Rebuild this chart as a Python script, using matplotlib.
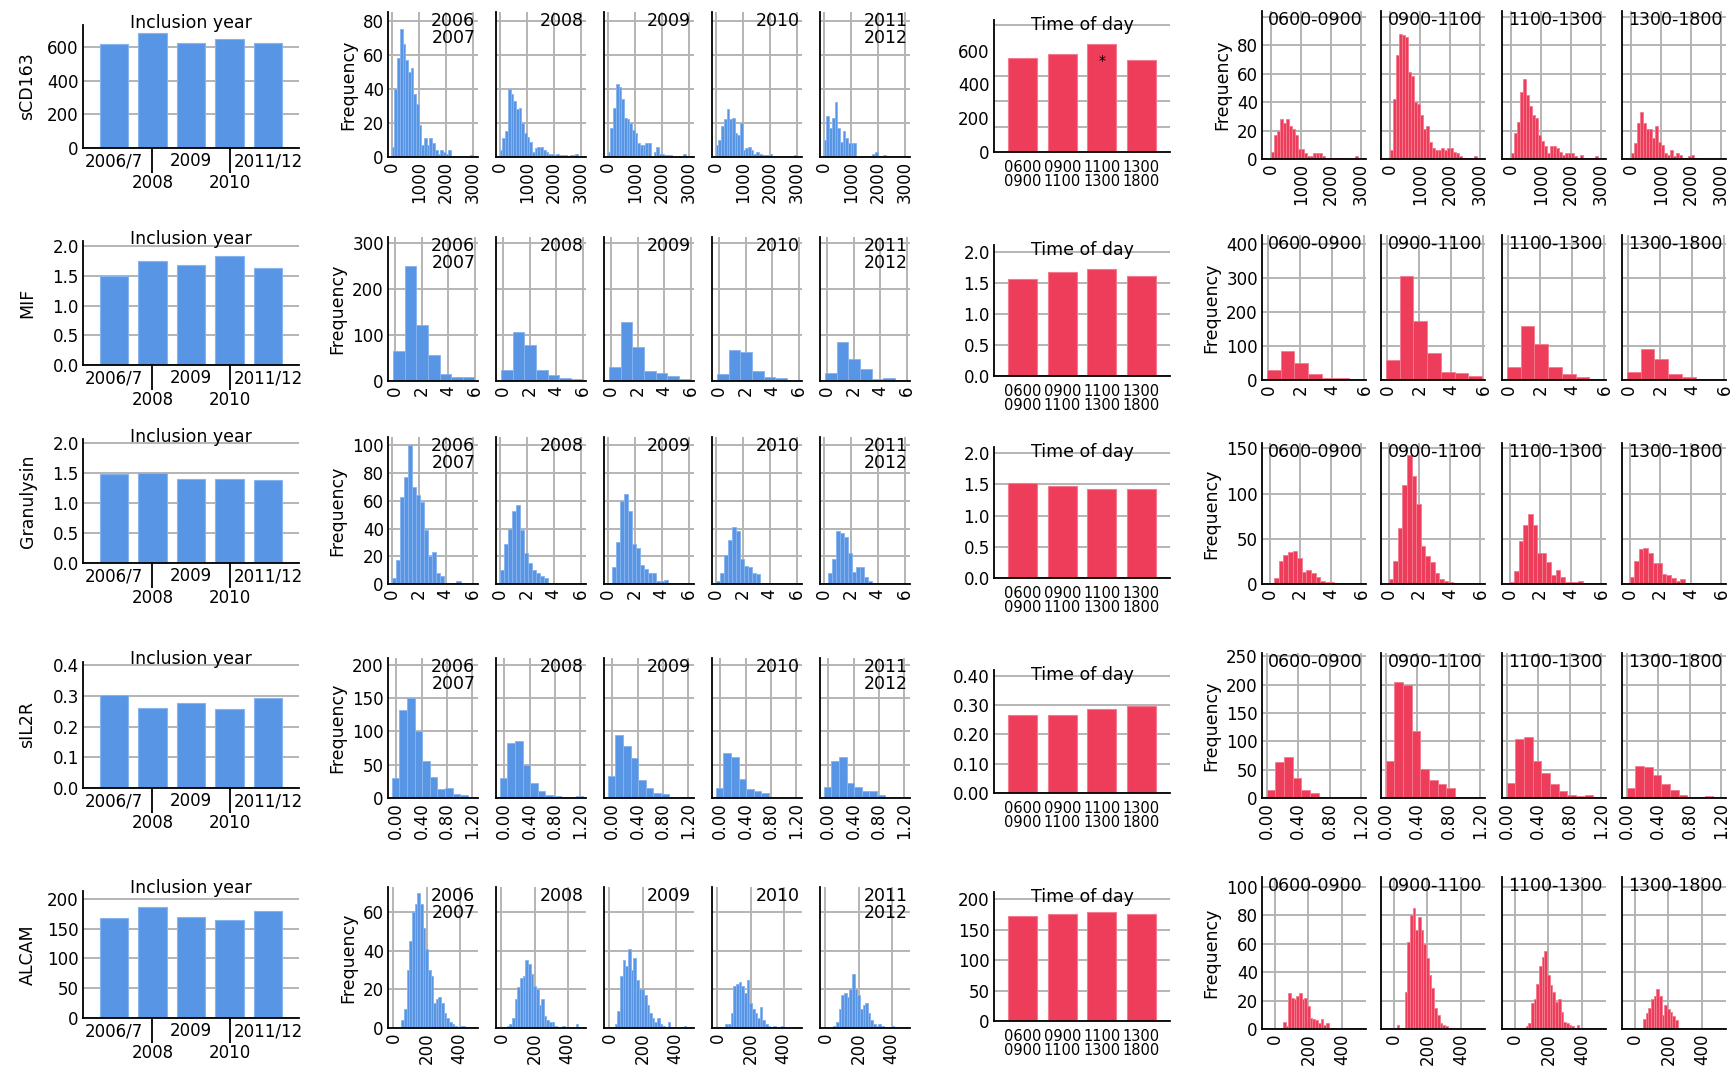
import numpy as np
import matplotlib.pyplot as plt

plt.rcParams['font.family'] = ['DejaVu Sans']
plt.rcParams['font.size'] = 12

# ---------------- data ----------------
markers = ['sCD163', 'MIF', 'Granulysin', 'sIL2R', 'ALCAM']
years = ['2006/7', '2008', '2009', '2010', '2011/12']
year_panel_labels = ['2006\n2007', '2008', '2009', '2010', '2011\n2012']
tod_labels = ['0600\n0900', '0900\n1100', '1100\n1300', '1300\n1800']
tod_panel_labels = ['0600-0900', '0900-1100', '1100-1300', '1300-1800']

# mean levels by inclusion year
year_scd163 = [615, 685, 625, 645, 625]
year_mif = [1.50, 1.75, 1.68, 1.84, 1.64]
year_gran = [1.48, 1.51, 1.41, 1.41, 1.39]
year_sil2r = [0.303, 0.259, 0.277, 0.256, 0.292]
year_alcam = [167, 187, 170, 165, 180]

# mean levels by time of day
tod_scd163 = [555, 580, 640, 547]
tod_mif = [1.57, 1.67, 1.73, 1.61]
tod_gran = [1.53, 1.47, 1.42, 1.42]
tod_sil2r = [0.268, 0.268, 0.286, 0.297]
tod_alcam = [173, 176, 179, 176]

# histogram counts (bin start, bin width, counts per bin)
scd163_bins = (0, 100)
scd163_year_counts = [
    [6, 40, 58, 75, 66, 57, 50, 52, 37, 31, 19, 7, 11, 7, 11, 8, 4, 2, 4, 3, 2, 4, 0, 0, 0, 0, 0, 0, 0, 1],
    [4, 11, 15, 40, 37, 33, 28, 29, 20, 14, 12, 9, 3, 5, 6, 6, 4, 3, 2, 2, 1, 2, 1, 1, 1, 0, 1, 1, 2, 0],
    [3, 17, 29, 43, 41, 34, 23, 22, 20, 16, 14, 8, 7, 7, 8, 8, 0, 3, 6, 2, 2, 1, 1, 1, 0, 0, 0, 0, 2, 0],
    [7, 10, 18, 22, 28, 22, 23, 14, 13, 20, 4, 5, 6, 4, 2, 3, 2, 1, 1, 1, 2, 0, 0, 0, 0, 0, 0, 0, 0, 1],
    [10, 24, 17, 23, 32, 17, 9, 15, 11, 8, 8, 8, 0, 0, 0, 0, 0, 0, 2, 3, 0, 0, 1, 0, 0, 0, 0, 0, 0, 0],
]
scd163_tod_counts = [
    [5, 17, 20, 28, 25, 28, 23, 21, 17, 7, 7, 4, 2, 2, 4, 4, 4, 2, 1, 1, 1, 1, 1, 1, 0, 0, 0, 0, 2, 0],
    [6, 42, 73, 88, 87, 86, 61, 58, 40, 39, 31, 21, 23, 12, 8, 6, 6, 8, 6, 8, 8, 5, 4, 2, 1, 1, 1, 0, 2, 0],
    [4, 18, 26, 47, 56, 45, 37, 31, 29, 17, 13, 9, 4, 9, 9, 8, 5, 3, 4, 4, 4, 2, 1, 3, 1, 1, 1, 1, 2, 0],
    [4, 11, 25, 33, 25, 21, 21, 15, 23, 12, 10, 4, 3, 6, 2, 4, 3, 1, 1, 2, 3, 0, 1, 0, 1, 0, 0, 0, 0, 0],
]

mif_bins = (-0.1, 0.86)
mif_year_counts = [
    [65, 250, 123, 56, 15, 9, 8],
    [25, 106, 78, 25, 13, 6, 4],
    [30, 128, 74, 22, 17, 10, 5],
    [15, 68, 64, 22, 8, 6, 3],
    [17, 84, 48, 26, 5, 6, 1],
]
mif_tod_counts = [
    [30, 84, 50, 17, 7, 7, 4],
    [60, 305, 172, 78, 22, 20, 12],
    [38, 158, 106, 38, 18, 8, 2],
    [22, 92, 62, 18, 8, 2, 4],
]

gran_bins = (0, 0.3)
gran_year_counts = [
    [4, 17, 63, 77, 100, 70, 64, 59, 39, 20, 23, 8, 6, 1, 1, 1, 2],
    [10, 29, 40, 53, 57, 39, 22, 15, 10, 8, 6, 4, 1, 1, 0, 0, 0],
    [1, 12, 30, 60, 65, 53, 29, 26, 14, 11, 8, 8, 2, 2, 3, 1, 0, 0, 1, 0, 0],
    [2, 8, 21, 32, 41, 38, 18, 13, 12, 8, 7, 1, 1, 1, 1, 1, 0],
    [1, 8, 18, 38, 37, 34, 22, 9, 12, 12, 5, 2, 0, 1, 1, 1, 0],
]
gran_tod_counts = [
    [1, 7, 25, 32, 35, 36, 29, 13, 15, 12, 8, 3, 2, 2, 1, 1, 1, 0, 1, 1],
    [5, 26, 62, 110, 143, 120, 88, 42, 31, 24, 12, 6, 3, 2, 1, 0, 1],
    [2, 14, 48, 65, 77, 65, 34, 34, 24, 10, 16, 8, 2, 2, 2, 3, 1, 0, 0, 0, 1],
    [8, 26, 39, 40, 34, 23, 23, 11, 10, 7, 3, 5, 1, 1, 1],
]

sil2r_year_bins = (-0.07, 0.12)
sil2r_tod_bins = (0.0, 0.11)
sil2r_year_counts = [
    [30, 132, 150, 100, 55, 31, 14, 15, 6, 5, 1],
    [30, 83, 85, 50, 22, 11, 5, 3, 2, 2, 3],
    [33, 95, 78, 60, 27, 15, 8, 6, 1, 1, 1],
    [15, 67, 61, 28, 13, 10, 7, 0, 1, 2, 0],
    [16, 55, 62, 23, 17, 11, 10, 5, 1, 1, 0],
]
sil2r_tod_counts = [
    [15, 63, 72, 36, 14, 9, 2, 2, 1, 2, 1],
    [66, 205, 200, 118, 51, 31, 24, 17, 2, 1, 1],
    [27, 105, 108, 65, 45, 24, 12, 5, 3, 6, 1],
    [17, 56, 55, 40, 25, 15, 6, 2, 2, 3, 1],
]

alcam_bins = (0, 16)
alcam_year_counts = [
    [0, 0, 0, 4, 10, 30, 45, 60, 64, 70, 64, 52, 41, 30, 27, 13, 15, 16, 13, 8, 5, 3, 2, 1, 0, 1, 1, 0, 0, 0],
    [0, 0, 1, 2, 5, 15, 21, 26, 27, 35, 33, 28, 22, 20, 12, 15, 6, 4, 3, 3, 1, 0, 0, 1, 0, 0, 0, 0, 2, 0],
    [0, 0, 2, 9, 27, 35, 32, 41, 30, 36, 25, 20, 20, 17, 12, 8, 5, 3, 5, 2, 1, 0, 3, 0, 0, 0, 0, 0, 1, 0],
    [0, 0, 0, 2, 2, 8, 22, 23, 24, 22, 18, 25, 13, 10, 8, 5, 11, 4, 2, 1, 0, 1, 0, 0, 1, 0, 0, 0, 0, 0],
    [0, 0, 0, 1, 3, 10, 17, 18, 16, 20, 28, 20, 17, 10, 12, 13, 8, 4, 2, 1, 2, 1, 0, 0, 0, 1, 0, 0, 0, 0],
]
alcam_tod_counts = [
    [0, 0, 0, 5, 2, 25, 22, 21, 23, 25, 21, 22, 16, 8, 7, 6, 4, 7, 3, 4, 0, 1, 1, 0, 0, 0, 0, 0, 0, 1],
    [0, 3, 0, 0, 26, 61, 80, 85, 70, 79, 70, 60, 50, 38, 29, 15, 10, 4, 3, 2, 1, 1, 0, 0, 0, 1, 0, 0, 0, 0],
    [0, 0, 0, 1, 2, 4, 18, 21, 32, 44, 51, 55, 38, 31, 26, 19, 21, 12, 5, 4, 3, 2, 0, 3, 0, 1, 0, 0, 0, 0],
    [0, 0, 0, 7, 11, 15, 21, 23, 28, 23, 10, 17, 14, 12, 9, 6, 1, 1, 1, 0, 0, 0, 1, 0, 0, 0, 0, 0, 1, 0],
]

# ---------------- style ----------------
W, H = 1736, 1075
BLUE, BLUE_EDGE = '#5896e5', '#86b4ee'
RED, RED_EDGE = '#ee3d5b', '#f47b8f'
GRID = '#b4b4b4'

fig = plt.figure(figsize=(W / 100, H / 100), dpi=100)


def box(left, top, right, bottom):
    return [left / W, 1 - bottom / H, (right - left) / W, (bottom - top) / H]


def style(ax, xgrid=False):
    for s in ['top', 'right']:
        ax.spines[s].set_visible(False)
    for s in ['left', 'bottom']:
        ax.spines[s].set_color('black')
        ax.spines[s].set_linewidth(1.3)
    ax.set_axisbelow(True)
    ax.grid(axis='y', color=GRID, lw=1.4)
    if xgrid:
        ax.grid(axis='x', color=GRID, lw=1.4)
    ax.tick_params(length=0, pad=3, labelsize=12)


def year_bar(ax, means, ytop, yticks, fmt, ylabel):
    style(ax)
    x = np.arange(len(years))
    ax.bar(x, means, width=0.74, color=BLUE, edgecolor=BLUE_EDGE, lw=0.8)
    ax.set_xlim(-0.8, 4.8)
    ax.set_ylim(0, ytop)
    ax.set_yticks(yticks)
    ax.set_yticklabels([fmt.format(v) for v in yticks])
    # staggered year labels: odd ones sit lower, under a long tick
    ax.set_xticks(x[::2])
    ax.set_xticklabels(years[::2])
    ax.set_xticks(x[1::2], minor=True)
    ax.set_xticklabels(years[1::2], minor=True)
    ax.tick_params(axis='x', which='minor', length=18, width=1.3, color='black',
                   pad=1, labelsize=12)
    ax.text(0.5, 1.02, 'Inclusion year', transform=ax.transAxes,
            ha='center', va='center', fontsize=12.5)
    ax.set_ylabel(ylabel, fontsize=12.5)
    ax.yaxis.set_label_coords(-0.215, 0.5)


def tod_bar(ax, means, ytop, yticks, fmt, grid_step=None):
    style(ax)
    x = np.arange(len(tod_labels))
    ax.bar(x, means, width=0.73, color=RED, edgecolor=RED_EDGE, lw=0.8)
    ax.set_xlim(-0.73, 3.73)
    ax.set_ylim(0, ytop)
    ax.set_yticks(yticks)
    ax.set_yticklabels([fmt.format(v) for v in yticks])
    if grid_step:
        # grid on its own step, not on the labelled ticks
        ax.grid(axis='y', which='major', visible=False)
        ax.set_yticks(np.arange(grid_step, ytop, grid_step), minor=True)
        ax.tick_params(axis='y', which='minor', length=0)
        ax.grid(axis='y', which='minor', color=GRID, lw=1.4)
    ax.set_xticks(x)
    ax.set_xticklabels(tod_labels, fontsize=10.5, linespacing=0.85)
    ax.tick_params(axis='x', pad=6)
    ax.text(0.5, 0.96, 'Time of day', transform=ax.transAxes,
            ha='center', va='center', fontsize=12.5)


def hist_panel(ax, bins, counts, color, edge, xlim, xticks, xfmt, ylim, yticks,
               ylabels, label, first):
    style(ax, xgrid=True)
    start, width = bins
    edges = start + width * np.arange(len(counts) + 1)
    centers = (edges[:-1] + edges[1:]) / 2
    ax.hist(centers, bins=edges, weights=counts, color=color, edgecolor=edge, linewidth=0.6)
    ax.set_xlim(*xlim)
    ax.set_ylim(0, ylim)
    ax.set_xticks(xticks)
    ax.set_xticklabels([xfmt.format(v) for v in xticks], rotation=90)
    ax.set_yticks(yticks)
    if first:
        ax.set_yticklabels(ylabels)
        ax.set_ylabel('Frequency', fontsize=12.5, labelpad=4)
    else:
        ax.set_yticklabels([])
    ax.text(0.97, 1.0, label, transform=ax.transAxes, ha='right', va='top',
            fontsize=12.5, linespacing=0.95)


# ---------------- layout ----------------
bar_rows = [(25, 148), (241, 365), (439, 563), (662, 788), (891, 1018)]
hist_rows = [(12, 157), (237, 381), (437, 584), (658, 798), (887, 1028)]
tod_rows = [(20, 152), (245, 376), (447, 578), (670, 793), (892, 1021)]
red_rows = [(11, 159), (235, 380), (443, 584), (653, 798), (877, 1029)]
blue_lefts = [388, 496, 604, 712, 820]
blue_w = 90
red_lefts = [1262, 1381, 1502, 1622]
red_w = 104

year_means = [year_scd163, year_mif, year_gran, year_sil2r, year_alcam]
tod_means = [tod_scd163, tod_mif, tod_gran, tod_sil2r, tod_alcam]
year_counts = [scd163_year_counts, mif_year_counts, gran_year_counts, sil2r_year_counts, alcam_year_counts]
tod_counts = [scd163_tod_counts, mif_tod_counts, gran_tod_counts, sil2r_tod_counts, alcam_tod_counts]
year_bins = [scd163_bins, mif_bins, gran_bins, sil2r_year_bins, alcam_bins]
tod_bins = [scd163_bins, mif_bins, gran_bins, sil2r_tod_bins, alcam_bins]

bar_cfg = [
    (730, [0, 200, 400, 600], '{:.0f}'),
    (2.09, [0, 0.5, 1.0, 1.5, 2.0], '{:.1f}'),
    (2.07, [0, 0.5, 1.0, 1.5, 2.0], '{:.1f}'),
    (0.41, [0, 0.1, 0.2, 0.3, 0.4], '{:.1f}'),
    (213, [0, 50, 100, 150, 200], '{:.0f}'),
]
tod_cfg = [
    (782, [0, 200, 400, 600], '{:.0f}', 150),
    (2.11, [0, 0.5, 1.0, 1.5, 2.0], '{:.1f}', None),
    (2.10, [0, 0.5, 1.0, 1.5, 2.0], '{:.1f}', None),
    (0.42, [0, 0.1, 0.2, 0.3, 0.4], '{:.2f}', None),
    (212, [0, 50, 100, 150, 200], '{:.0f}', None),
]
blue_cfg = [
    ((-140, 3200), [0, 1000, 2000, 3000], '{:.0f}', 85, [0, 20, 40, 60, 80]),
    ((-0.5, 6.2), [0, 2, 4, 6], '{:.0f}', 314, [0, 100, 200, 300]),
    ((-0.29, 6.4), [0, 2, 4, 6], '{:.0f}', 106, [0, 20, 40, 60, 80, 100]),
    ((-0.13, 1.29), [0, 0.4, 0.8, 1.2], '{:.2f}', 210, [0, 50, 100, 150, 200]),
    ((-33, 511), [0, 200, 400], '{:.0f}', 73, [0, 20, 40, 60]),
]
red_cfg = [
    ((-300, 3180), [0, 1000, 2000, 3000], '{:.0f}', 104, [0, 20, 40, 60, 80, 100]),
    ((-0.4, 6.1), [0, 2, 4, 6], '{:.0f}', 425, [0, 100, 200, 300, 400]),
    ((-0.5, 6.3), [0, 2, 4, 6], '{:.0f}', 156, [0, 50, 100, 150]),
    ((-0.06, 1.26), [0, 0.4, 0.8, 1.2], '{:.2f}', 256, [0, 50, 100, 150, 200, 250]),
    ((-78, 544), [0, 200, 400], '{:.0f}', 107, [0, 20, 40, 60, 80, 100]),
]

for r in range(5):
    # inclusion-year means
    ax = fig.add_axes(box(83, bar_rows[r][0], 299, bar_rows[r][1]))
    ytop, yt, fmt = bar_cfg[r]
    year_bar(ax, year_means[r], ytop, yt, fmt, markers[r])

    # histograms by inclusion year
    xlim, xt, xfmt, ytop, yt = blue_cfg[r]
    ylabs = [f'{v:g}' for v in yt]
    for i in range(5):
        ax = fig.add_axes(box(blue_lefts[i], hist_rows[r][0], blue_lefts[i] + blue_w, hist_rows[r][1]))
        hist_panel(ax, year_bins[r], year_counts[r][i], BLUE, BLUE_EDGE, xlim, xt, xfmt,
                   ytop, yt, ylabs, year_panel_labels[i], i == 0)

    # time-of-day means
    ax = fig.add_axes(box(994, tod_rows[r][0], 1170, tod_rows[r][1]))
    ytop, yt, fmt, gstep = tod_cfg[r]
    tod_bar(ax, tod_means[r], ytop, yt, fmt, gstep)
    if r == 0:
        ax.annotate('*', (2, tod_means[r][2]), xytext=(0, -12), textcoords='offset points',
                    ha='center', va='center', fontsize=10)

    # histograms by time of day
    xlim, xt, xfmt, ytop, yt = red_cfg[r]
    ylabs = [f'{v:g}' for v in yt]
    if r == 0:
        ylabs[-1] = ''
    for i in range(4):
        ax = fig.add_axes(box(red_lefts[i], red_rows[r][0], red_lefts[i] + red_w, red_rows[r][1]))
        hist_panel(ax, tod_bins[r], tod_counts[r][i], RED, RED_EDGE, xlim, xt, xfmt,
                   ytop, yt, ylabs, tod_panel_labels[i], i == 0)

fig.savefig('out.png', dpi=100, facecolor='white')
